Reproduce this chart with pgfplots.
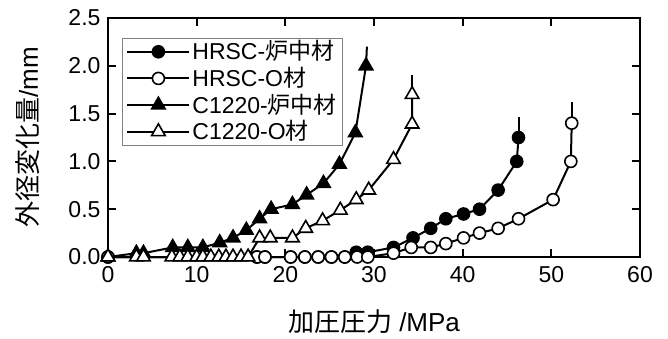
\documentclass[border=0pt]{standalone}
\usepackage{fontspec}
\setmainfont{Liberation Sans}
\newfontfamily\jp{Noto Sans CJK JP}
\usepackage{pgfplots}
\pgfplotsset{compat=1.18}
\newcommand\lf{\fontsize{23}{26}\selectfont}
\begin{document}
\fontsize{22}{26}\selectfont
\begin{tikzpicture}
\useasboundingbox (-108pt,-81pt) rectangle (560pt,257pt);
\begin{axis}[
  at={(0,0)}, anchor=south west,
  scale only axis, width=532pt, height=239pt,
  xmin=0, xmax=60, ymin=0, ymax=2.5,
  xtick={0,10,...,60}, ytick={0,0.5,...,2.5},
  tick align=inside, major tick length=8pt,
  axis line style={line width=2pt},
  every tick/.style={black, line width=2pt},
  /pgf/number format/assume math mode=true,
  yticklabel style={/pgf/number format/.cd, fixed, fixed zerofill, precision=1},
  tick label style={font=\fontsize{23}{26}\selectfont},
  xticklabel style={yshift=-2pt},
  xlabel={{\jp 加圧圧力} /MPa},
  ylabel={{\jp 外径変化量}/mm},
  xlabel style={at={(axis description cs:0.5,-0.27)}, anchor=center, font=\fontsize{26}{30}\selectfont},
  ylabel style={at={(axis description cs:-0.1504,0.5)}, anchor=center, font=\fontsize{26}{30}\selectfont},
  clip=false,
  legend style={at={(0.0263,0.916)}, anchor=north west, draw=gray, line width=0.8pt,
    font=\lf, row sep=0pt, inner xsep=4pt, inner ysep=0pt},
  legend cell align=left,
  legend image code/.code={\draw[mark repeat=2,mark phase=2] plot coordinates {(0pt,0pt)(31pt,0pt)(62pt,0pt)};},
]
% tails
\addplot[black, line width=2pt, forget plot] coordinates {(46.3,1.25)(46.3,1.46)};
\addplot[black, line width=2pt, forget plot] coordinates {(52.3,1.41)(52.3,1.62)};
\addplot[black, line width=2pt, forget plot] coordinates {(29.1,2.0)(29.2,2.2)};
\addplot[black, line width=2pt, forget plot] coordinates {(34.3,1.7)(34.3,1.9)};
% HRSC furnace
\addplot[black, line width=2pt, mark=*, mark size=6pt, mark options={fill=black, line width=1.6pt}] coordinates {
(0,0)(16.8,0)(17.7,0)(20.6,0)(22.2,0)(23.7,0)(25.2,0)(26.7,0)(28.0,0.05)(29.3,0.05)(32.2,0.1)(34.4,0.2)(36.4,0.3)(38.1,0.4)(40.1,0.45)(41.9,0.5)(44.0,0.7)(46.1,1.0)(46.3,1.25)};
\addlegendentry{\lf HRSC-{\jp 炉中材}}
% HRSC O
\addplot[black, line width=2pt, mark=*, mark size=6pt, mark options={fill=white, line width=1.6pt}] coordinates {
(0,0)(16.8,0)(17.7,0)(20.6,0)(22.2,0)(23.7,0)(25.2,0)(26.7,0)(28.1,0)(29.3,0)(32.2,0.04)(34.2,0.1)(36.4,0.1)(38.1,0.14)(40.1,0.2)(41.9,0.25)(44.0,0.3)(46.3,0.4)(50.2,0.6)(52.2,1.0)(52.3,1.4)};
\addlegendentry{\lf HRSC-O{\jp 材}}
% C1220 furnace
\addplot[black, line width=2pt, mark=triangle*, mark size=7.8pt, mark options={fill=black, line width=1.6pt}] coordinates {
(0,0)(3.2,0.04)(4.0,0.04)(7.3,0.1)(9.0,0.1)(10.7,0.1)(12.6,0.15)(14.1,0.2)(15.6,0.28)(17.1,0.4)(18.4,0.5)(20.8,0.55)(22.4,0.65)(24.3,0.77)(26.1,0.97)(27.9,1.3)(29.1,2.0)};
\addlegendentry{\lf C1220-{\jp 炉中材}}
% C1220 O
\addplot[black, line width=2pt, mark=triangle*, mark size=7.8pt, mark options={fill=white, line width=1.6pt}] coordinates {
(0,0)(3.2,0)(4.0,0)(7.2,0)(8.1,0)(9.0,0)(10.0,0)(10.7,0)(11.6,0)(12.5,0)(13.3,0)(14.1,0)(15.0,0)(15.8,0)(17.1,0.2)(18.3,0.2)(20.8,0.2)(22.3,0.3)(24.2,0.38)(26.2,0.49)(28.0,0.6)(29.4,0.7)(32.2,1.02)(34.3,1.39)(34.3,1.7)};
\addlegendentry{\lf C1220-O{\jp 材}}
\end{axis}
\end{tikzpicture}
\end{document}
